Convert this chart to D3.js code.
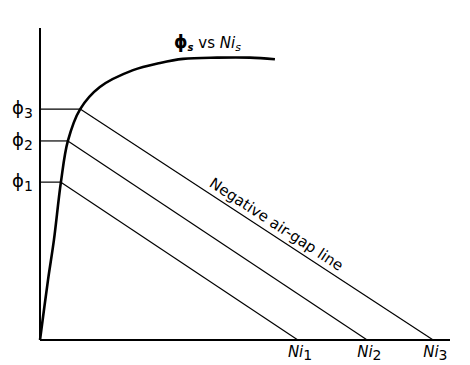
<!DOCTYPE html>
<html><head><meta charset="utf-8">
<script src="https://cdn.jsdelivr.net/npm/d3@7"></script>
<style>body{margin:0;background:#fff}svg{display:block}text{font-family:"DejaVu Sans",sans-serif;fill:#000}</style>
</head><body><svg id="c" width="470" height="365"></svg>
<script>
// magnetisation curve phi_s vs Ni_s (arbitrary units)
const curveNi  = [0, 0.195, 0.34, 0.51, 0.68, 0.98, 1.46, 2.27, 2.93, 3.49, 4.32, 5.12, 5.73];
const curvePhi = [0, 1.92, 3.21, 5.06, 6.38, 7.40, 8.11, 8.65, 8.88, 9.01, 9.05, 9.05, 9.00];
// flux levels and their points on the curve
const phiLevels = [5.06, 6.38, 7.40];
const phiCurveNi = [0.51, 0.68, 0.98];
// air-gap line intercepts on Ni axis
const niIntercepts = [6.29, 7.98, 9.59];
const phiLabels = ["1", "2", "3"];
const niLabels = ["1", "2", "3"];

const svg = d3.select("#c");
const x = d3.scaleLinear().domain([0, 10]).range([40, 450]);
const y = d3.scaleLinear().domain([0, 10]).range([340, 28]);

// axes
svg.append("line").attr("x1", x(0)).attr("x2", x(0)).attr("y1", y(0)).attr("y2", y(10))
  .attr("stroke", "#000").attr("stroke-width", 2);
svg.append("line").attr("x1", x(0)).attr("x2", x(10)).attr("y1", y(0)).attr("y2", y(0))
  .attr("stroke", "#000").attr("stroke-width", 2);

// horizontal flux lines and air-gap lines
phiLevels.forEach((p, i) => {
  svg.append("line").attr("x1", x(0)).attr("x2", x(phiCurveNi[i])).attr("y1", y(p)).attr("y2", y(p))
    .attr("stroke", "#000").attr("stroke-width", 1.2);
  svg.append("line").attr("x1", x(phiCurveNi[i])).attr("y1", y(p))
    .attr("x2", x(niIntercepts[i])).attr("y2", y(0))
    .attr("stroke", "#000").attr("stroke-width", 1.2);
  const t = svg.append("text").attr("x", x(0) - 28).attr("y", y(p) + 5).attr("font-size", 18).text("\u03D5");
  t.append("tspan").attr("dy", 4).attr("font-size", 14).text(phiLabels[i]);
  const n = svg.append("text").attr("x", x(niIntercepts[i]) - 10).attr("y", y(0) + 17)
    .attr("font-size", 15).attr("font-style", "italic").text("Ni");
  n.append("tspan").attr("dy", 3).attr("font-size", 14).attr("font-style", "normal").text(niLabels[i]);
});

// curve
const pts = curveNi.map((v, i) => [v, curvePhi[i]]);
svg.append("path").attr("d", d3.line().x(d => x(d[0])).y(d => y(d[1])).curve(d3.curveCatmullRom.alpha(0.5))(pts))
  .attr("fill", "none").attr("stroke", "#000").attr("stroke-width", 2.6);

// curve label
const cl = svg.append("text").attr("x", 174).attr("y", 48).attr("font-size", 15);
cl.append("tspan").attr("font-size", 17).attr("font-weight", "bold").text("\u03D5");
cl.append("tspan").attr("dy", 3).attr("font-size", 10).attr("font-style", "italic").attr("font-weight", "bold").text("s");
cl.append("tspan").attr("dy", -3).text(" vs ");
cl.append("tspan").attr("font-style", "italic").text("Ni");
cl.append("tspan").attr("dy", 3).attr("font-size", 11).attr("font-style", "italic").text("s");

// air-gap line label along top line
const i3 = 2;
const x1 = x(phiCurveNi[i3]), y1 = y(phiLevels[i3]), x2 = x(niIntercepts[i3]), y2 = y(0);
const ang = Math.atan2(y2 - y1, x2 - x1) * 180 / Math.PI;
const tx = 205, ty = y1 + (tx - x1) * (y2 - y1) / (x2 - x1);
svg.append("text").attr("transform", `translate(${tx},${ty}) rotate(${ang}) translate(0,-6)`)
  .attr("font-size", 15).text("Negative air-gap line");
</script></body></html>
